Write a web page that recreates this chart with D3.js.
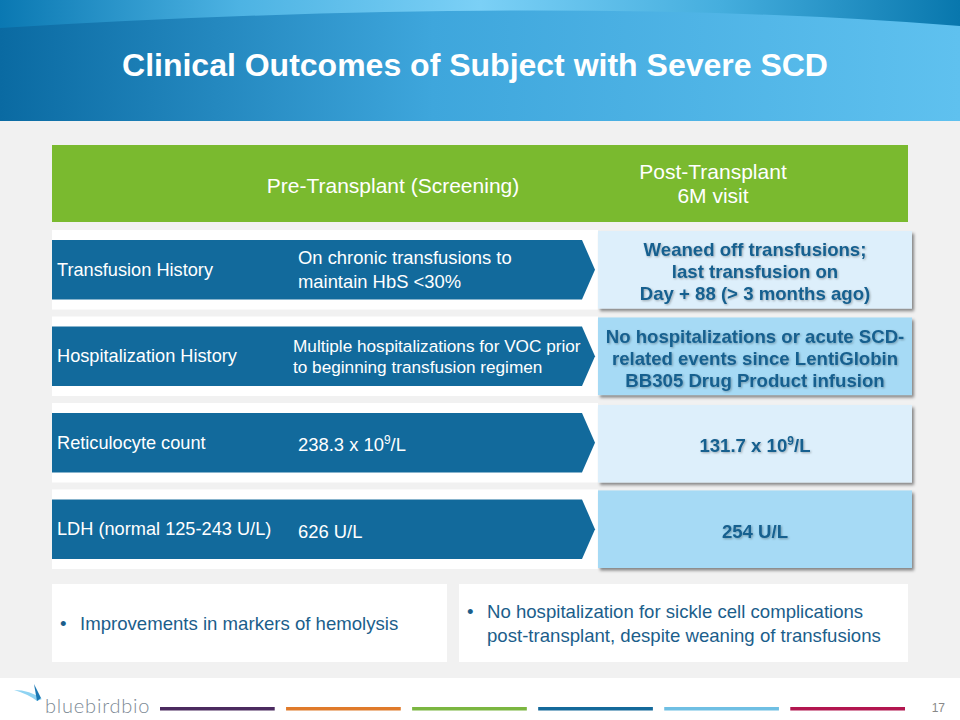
<!DOCTYPE html>
<html><head><meta charset="utf-8">
<script src="https://cdn.jsdelivr.net/npm/d3@7/dist/d3.min.js"></script>
<style>
html,body{margin:0;padding:0;background:#fff;}
svg{display:block;font-family:"Liberation Sans",Arial,sans-serif;}
</style></head>
<body>
<script>
// ---- data ----
const title = "Clinical Outcomes of Subject with Severe SCD";
const columnHeaders = ["Pre-Transplant (Screening)", ["Post-Transplant", "6M visit"]];
const categories = ["Transfusion History", "Hospitalization History", "Reticulocyte count", "LDH (normal 125-243 U/L)"];
const preValues = [
  ["On chronic transfusions to", "maintain HbS <30%"],
  ["Multiple hospitalizations for VOC prior", "to beginning transfusion regimen"],
  ["238.3 x 10|9|/L"],
  ["626 U/L"]
];
const postValues = [
  ["Weaned off transfusions;", "last transfusion on", "Day + 88 (> 3 months ago)"],
  ["No hospitalizations or acute SCD-", "related events since LentiGlobin", "BB305 Drug Product infusion"],
  ["131.7 x 10|9|/L"],
  ["254 U/L"]
];
const summaries = [
  ["Improvements in markers of hemolysis"],
  ["No hospitalization for sickle cell complications", "post-transplant, despite weaning of transfusions"]
];
const footerColors = ["#4b2a5f", "#e07a2a", "#7bb640", "#14699a", "#6fbfe3", "#b2164f"];
const pageNumber = "17";

// ---- drawing ----
const W = 960, H = 720;
const svg = d3.select("body").append("svg").attr("width", W).attr("height", H);
const defs = svg.append("defs");

const g1 = defs.append("linearGradient").attr("id", "hdr").attr("x1", 0).attr("x2", 1).attr("y1", 0).attr("y2", 0);
g1.append("stop").attr("offset", "0").attr("stop-color", "#0a6aa2");
g1.append("stop").attr("offset", "0.45").attr("stop-color", "#3ea6dc");
g1.append("stop").attr("offset", "1").attr("stop-color", "#5fc1ef");
const g2 = defs.append("linearGradient").attr("id", "arc").attr("x1", 0).attr("x2", 1).attr("y1", 0).attr("y2", 0);
g2.append("stop").attr("offset", "0").attr("stop-color", "#0a78b2");
g2.append("stop").attr("offset", "0.25").attr("stop-color", "#4db3e3");
g2.append("stop").attr("offset", "0.5").attr("stop-color", "#7bd0f6");
g2.append("stop").attr("offset", "0.75").attr("stop-color", "#45aede");
g2.append("stop").attr("offset", "1").attr("stop-color", "#0877ad");

const sh = defs.append("filter").attr("id", "shadow").attr("x", "-5%").attr("y", "-10%").attr("width", "115%").attr("height", "130%");
sh.append("feDropShadow").attr("dx", 2).attr("dy", 2.5).attr("stdDeviation", 1.6).attr("flood-color", "#000").attr("flood-opacity", 0.45);
const tsh = defs.append("filter").attr("id", "tshadow").attr("x", "-10%").attr("y", "-30%").attr("width", "120%").attr("height", "160%");
tsh.append("feDropShadow").attr("dx", 1).attr("dy", 1).attr("stdDeviation", 1).attr("flood-color", "#000").attr("flood-opacity", 0.3);

// backgrounds
svg.append("rect").attr("x", 0).attr("y", 0).attr("width", W).attr("height", H).attr("fill", "#fff");
svg.append("rect").attr("x", 0).attr("y", 120).attr("width", W).attr("height", 558).attr("fill", "#f1f1f1");
svg.append("rect").attr("x", 0).attr("y", 0).attr("width", W).attr("height", 121).attr("fill", "url(#hdr)");
svg.append("path").attr("d", "M0,0 H960 V26 Q560,-6 0,28 Z").attr("fill", "url(#arc)");

svg.append("text").attr("x", 475).attr("y", 76).attr("text-anchor", "middle")
  .attr("fill", "#fff").attr("font-weight", "bold").attr("font-size", 32).text(title);

// header band
svg.append("rect").attr("x", 52).attr("y", 145).attr("width", 856).attr("height", 77).attr("fill", "#7aba2f");
svg.append("text").attr("x", 393).attr("y", 193).attr("text-anchor", "middle").attr("fill", "#fff")
  .attr("font-size", 21).text(columnHeaders[0]);
svg.append("text").attr("x", 713).attr("y", 179).attr("text-anchor", "middle").attr("fill", "#fff")
  .attr("font-size", 21).selectAll("tspan").data(columnHeaders[1]).join("tspan")
  .attr("x", 713).attr("dy", (d, i) => i ? 24 : 0).text(d => d);

// rows
const y = d3.scaleBand().domain(categories).range([230, 569]).paddingInner(0.08).paddingOuter(0);
const xL = 52, xShaft = 582, xTip = 595, xBox = 598, xBoxR = 912;

const rows = svg.append("g").selectAll("g").data(categories).join("g")
  .attr("transform", d => `translate(0,${y(d)})`);
const bh = y.bandwidth();

rows.append("rect").attr("x", xL).attr("y", 0).attr("width", xBox - xL).attr("height", bh).attr("fill", "#fff");
rows.append("path").attr("fill", "#126a9c")
  .attr("d", () => {
    const t = 10, b = bh - 10, m = (t + b) / 2;
    return `M${xL},${t} H${xShaft} L${xTip},${m} L${xShaft},${b} H${xL} Z`;
  });
rows.append("text").attr("x", 57).attr("y", bh / 2 + 6).attr("fill", "#fff").attr("font-size", 18.2).text(d => d);

function addLines(sel, lines, x, cy, lh, anchor) {
  const n = lines.length;
  lines.forEach((ln, i) => {
    const t = sel.append("text").attr("x", x).attr("y", cy + (i - (n - 1) / 2) * lh).attr("dy", "0.35em")
      .attr("text-anchor", anchor);
    const parts = ln.split("|");
    parts.forEach((p, k) => {
      const ts = t.append("tspan").text(p);
      if (k === 1) ts.attr("font-size", "0.65em").attr("baseline-shift", "super");
    });
  });
}

rows.each(function (d, i) {
  const g = d3.select(this);
  const pre = g.append("g").attr("fill", "#fff").attr("font-size", i === 1 ? 17.2 : 18.4);
  addLines(pre, preValues[i], i === 1 ? 293 : 298, bh / 2 + (i >= 2 ? 2 : 0), i === 1 ? 21 : 24, "start");
  const boxTop = i === 1 ? 1 : (i === 2 ? 2 : 1);
  g.append("rect").attr("x", xBox).attr("y", boxTop).attr("width", xBoxR - xBox).attr("height", bh - 2)
    .attr("fill", i % 2 === 0 ? "#ddeffb" : "#a6daf5").attr("filter", "url(#shadow)");
  const post = g.append("g").attr("fill", "#17608f").attr("font-size", 18.6).attr("font-weight", "bold")
    .attr("filter", "url(#tshadow)");
  addLines(post, postValues[i], (xBox + xBoxR) / 2, bh / 2 + boxTop + 1, 22, "middle");
});

// summary boxes
const sumBoxes = [{x: 52, w: 395}, {x: 459, w: 449}];
sumBoxes.forEach((b, i) => {
  svg.append("rect").attr("x", b.x).attr("y", 584).attr("width", b.w).attr("height", 78).attr("fill", "#fff");
  const g = svg.append("g").attr("fill", "#1b5e8b").attr("font-size", 18.6);
  const lines = summaries[i];
  const cy = 623, lh = 24;
  lines.forEach((ln, k) => {
    const yy = cy + (k - (lines.length - 1) / 2) * lh;
    if (k === 0) g.append("text").attr("x", b.x + 8).attr("y", yy).attr("dy", "0.35em").text("•");
    g.append("text").attr("x", b.x + 28).attr("y", yy).attr("dy", "0.35em").text(ln);
  });
});

// footer
const fx = d3.scaleBand().domain(footerColors).range([160, 905]).paddingInner(0.09);
svg.append("g").selectAll("rect").data(footerColors).join("rect")
  .attr("x", d => fx(d)).attr("y", 707).attr("width", fx.bandwidth()).attr("height", 3.5).attr("fill", d => d);
svg.append("text").attr("x", 945).attr("y", 712).attr("text-anchor", "end").attr("fill", "#888")
  .attr("font-size", 12).text(pageNumber);

// logo
const logo = svg.append("g");
logo.append("path").attr("d", "M14,690 Q30,690 42,699 L37,701 Q28,694 14,690 Z").attr("fill", "#8fd3f2");
logo.append("path").attr("d", "M34,684 L41,698 L37,701 Z").attr("fill", "#1b78b4");
logo.append("text").attr("x", 45).attr("y", 713).attr("fill", "#7d8a95").attr("font-size", 20)
  .attr("font-family", "Lato, sans-serif").attr("font-weight", 300).attr("letter-spacing", "0.8").text("bluebirdbio");
</script>
</body></html>
